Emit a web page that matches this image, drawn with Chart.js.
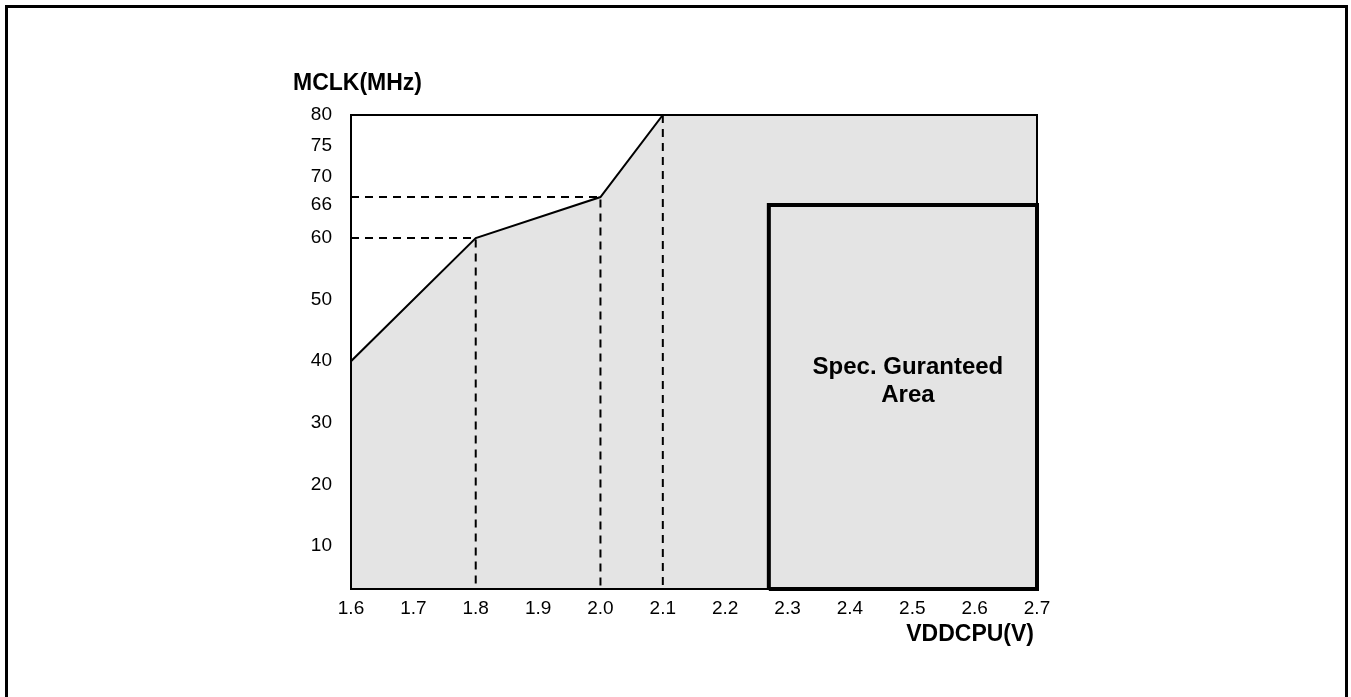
<!DOCTYPE html>
<html>
<head>
<meta charset="utf-8">
<script src="https://cdn.jsdelivr.net/npm/chart.js@4"></script>
<style>
  html, body { margin: 0; padding: 0; background: #fff; overflow: hidden; }
  .frame {
    position: absolute; left: 5px; top: 5px; width: 1343px; height: 800px;
    border: 3px solid #000; box-sizing: border-box;
  }
  .wrap { position: absolute; left: 0; top: 0; width: 1351px; height: 697px; }
</style>
</head>
<body>
<div class="frame"></div>
<div class="wrap"><canvas id="mychart"></canvas></div>
<script>
// limit curve: VDDCPU (V) -> max MCLK (MHz)
const voltage = [1.6, 1.8, 2.0, 2.1, 2.7];
const mclk = [40, 60, 66.67, 80, 80];

// x / y axis ranges and ticks
const xMin = 1.6;
const xMax = 2.7;
const xTicks = [1.6, 1.7, 1.8, 1.9, 2.0, 2.1, 2.2, 2.3, 2.4, 2.5, 2.6, 2.7];
const yMin = 3;
const yMax = 80;
const yTicks = [10, 20, 30, 40, 50, 60, 65.4, 70, 75, 80];
const yTickLabels = ["10", "20", "30", "40", "50", "60", "66", "70", "75", "80"];

// guaranteed area box
const specVolt = [2.27, 2.7];
const specMclk = 65.4;
const specText = ["Spec. Guranteed", "Area"];
const specTextY = 39;

const FONT = "'Liberation Sans', Arial, sans-serif";

const curve = voltage.map((v, i) => ({ x: v, y: mclk[i] }));

// dashed guide lines from the break points down / left
const guides = [];
for (let i = 1; i < 4; i++) {
  const pts = [];
  if (mclk[i] < yMax) pts.push({ x: xMin, y: mclk[i] });
  pts.push({ x: voltage[i], y: mclk[i] });
  pts.push({ x: voltage[i], y: yMin });
  guides.push(pts);
}

const specBox = [
  { x: specVolt[0], y: yMin },
  { x: specVolt[0], y: specMclk },
  { x: specVolt[1], y: specMclk },
  { x: specVolt[1], y: yMin },
  { x: specVolt[0], y: yMin },
];

const datasets = [
  {
    data: curve,
    borderColor: "#000",
    borderWidth: 2,
    backgroundColor: "#e4e4e4",
    fill: "start",
    pointRadius: 0,
    order: 3,
  },
];
guides.forEach((g) => {
  datasets.push({
    data: g,
    borderColor: "#000",
    borderWidth: 2,
    borderDash: [8, 6],
    fill: false,
    pointRadius: 0,
    order: 2,
    clip: false,
  });
});
datasets.push({
  data: specBox,
  borderColor: "#000",
  borderWidth: 4,
  fill: false,
  pointRadius: 0,
  order: 1,
  clip: false,
});

const extras = {
  id: "extras",
  afterDatasetsDraw(chart) {
    const { ctx, chartArea, scales } = chart;
    ctx.save();
    // plot frame
    ctx.strokeStyle = "#000";
    ctx.lineWidth = 2;
    ctx.strokeRect(chartArea.left, chartArea.top, chartArea.right - chartArea.left, chartArea.bottom - chartArea.top);
    // box text
    ctx.fillStyle = "#000";
    ctx.font = "bold 24px " + FONT;
    ctx.textAlign = "center";
    ctx.textBaseline = "middle";
    const cx = (scales.x.getPixelForValue(specVolt[0]) + scales.x.getPixelForValue(specVolt[1])) / 2 + 5;
    const cy = scales.y.getPixelForValue(specTextY);
    specText.forEach((t, i) => ctx.fillText(t, cx, cy + i * 28));
    // axis titles
    ctx.font = "bold 23px " + FONT;
    ctx.textAlign = "left";
    ctx.fillText("MCLK(MHz)", chartArea.left - 58, chartArea.top - 31);
    ctx.textAlign = "right";
    ctx.fillText("VDDCPU(V)", chartArea.right - 3, chartArea.bottom + 46);
    ctx.restore();
  },
};

new Chart(document.querySelector("#mychart"), {
  type: "line",
  data: { datasets },
  options: {
    responsive: true,
    maintainAspectRatio: false,
    animation: false,
    layout: { padding: { left: 291, right: 314, top: 115, bottom: 58 } },
    plugins: { legend: { display: false }, tooltip: { enabled: false } },
    elements: { line: { tension: 0 } },
    scales: {
      x: {
        type: "linear",
        min: xMin,
        max: xMax,
        afterFit: (s) => { s.height = 50; },
        afterBuildTicks: (s) => { s.ticks = xTicks.map((v) => ({ value: v })); },
        grid: { display: false, drawTicks: false },
        border: { display: false },
        ticks: {
          color: "#000",
          padding: 8,
          maxRotation: 0,
          font: { family: FONT, size: 19 },
          callback: (v) => v.toFixed(1),
        },
      },
      y: {
        type: "linear",
        min: yMin,
        max: yMax,
        afterFit: (s) => { s.width = 60; },
        afterBuildTicks: (s) => { s.ticks = yTicks.map((v) => ({ value: v })); },
        grid: { display: false, drawTicks: false },
        border: { display: false },
        ticks: {
          color: "#000",
          padding: 19,
          font: { family: FONT, size: 19 },
          callback: (v) => yTickLabels[yTicks.indexOf(v)],
        },
      },
    },
  },
  plugins: [extras],
});
</script>
</body>
</html>
